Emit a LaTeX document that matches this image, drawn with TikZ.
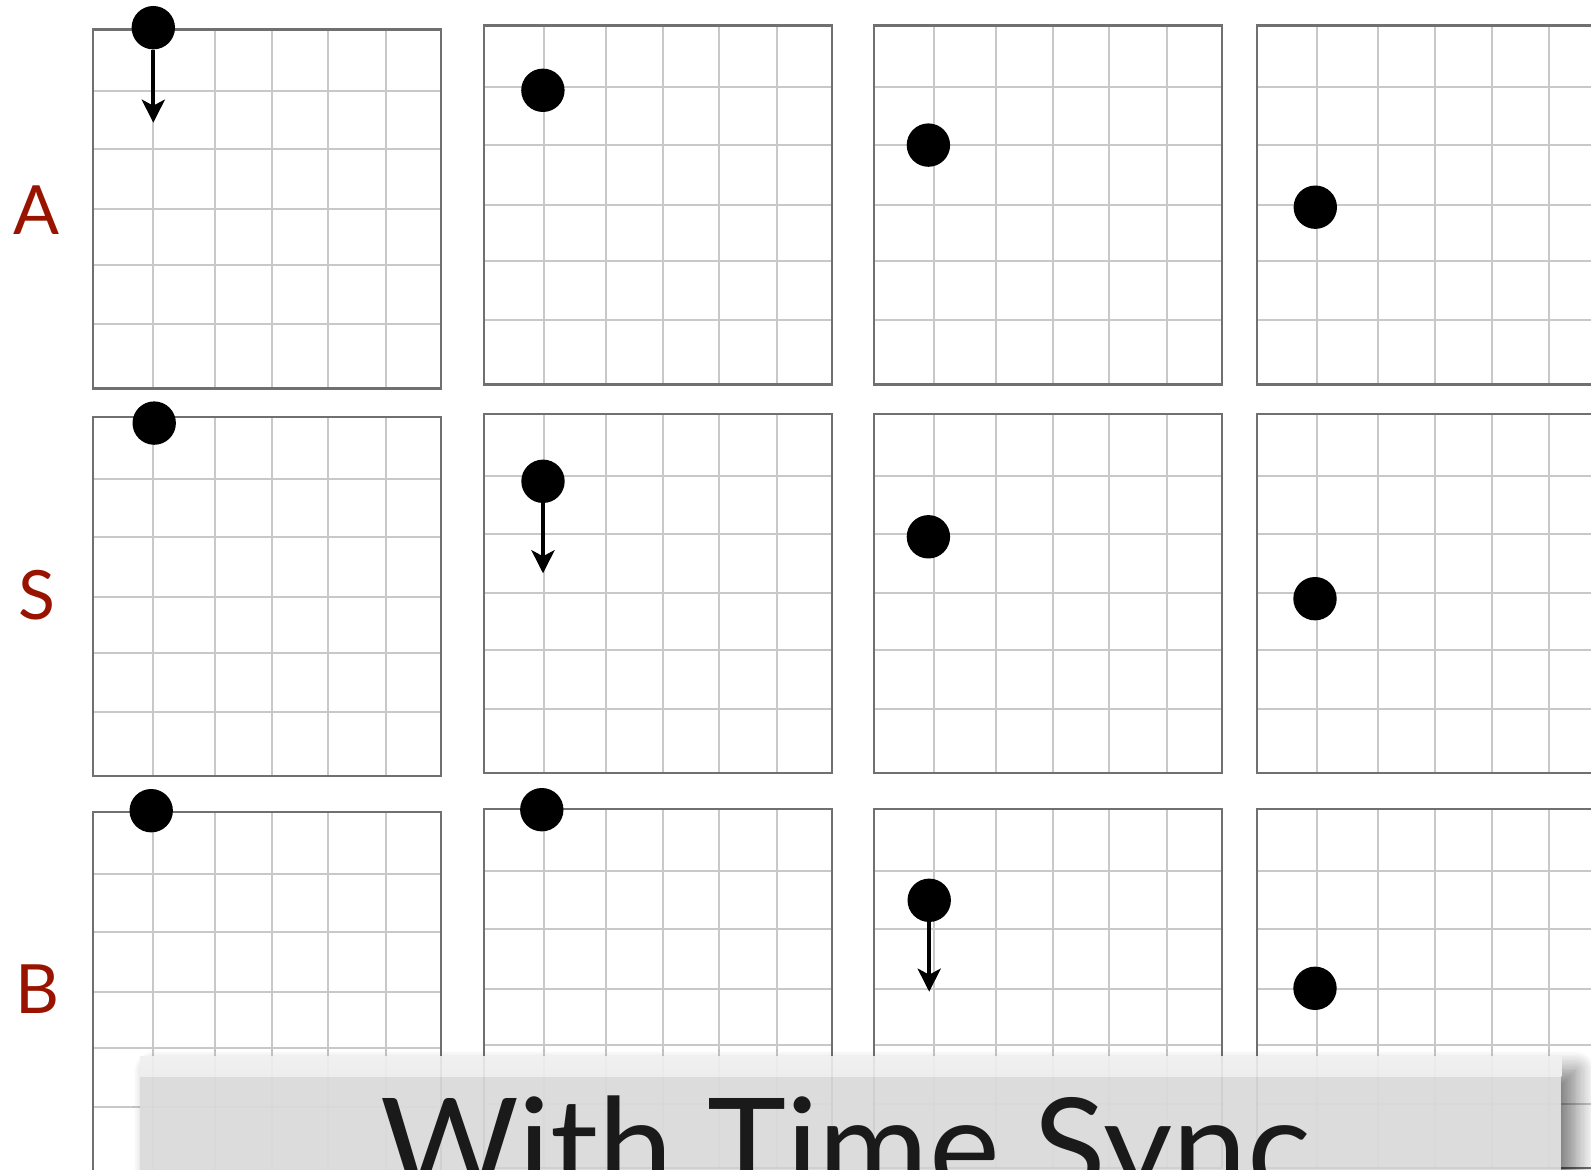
\documentclass[tikz,border=0pt]{standalone}
\usepackage{fontspec}
\setmainfont{Lato}
\usetikzlibrary{positioning, arrows.meta, shadows.blur}
\definecolor{rowred}{RGB}{153,20,0}
\definecolor{framegray}{RGB}{112,112,112}
\definecolor{gridgray}{RGB}{200,200,200}
\definecolor{bannergray}{RGB}{220,220,220}
\definecolor{bannerlight}{RGB}{240,240,240}
\definecolor{titleink}{RGB}{26,26,26}
\tikzset{
  % Grid panels
  panelframe/.style={draw=framegray, line width=1.15pt},
  panelgrid/.style={draw=gridgray, line width=1pt},
  % Token and its step arrow
  token/.style={circle, fill=black, inner sep=0pt, minimum size=21.7pt},
  fall/.style={-{Stealth[length=11.5pt, width=11.5pt, inset=3pt]}, line width=2.15pt},
  % Row letters
  rowlabel/.style={text=rowred, font=\fontsize{34}{34}\selectfont, inner sep=0pt},
  % Caption banner
  banner/.style={
    fill=bannergray, inner sep=0pt, anchor=north west,
    minimum width=710.75pt, minimum height=70pt,
    blur shadow={shadow xshift=7pt, shadow yshift=-7pt,
                 shadow blur radius=10pt, shadow blur steps=16,
                 shadow opacity=55},
    path picture={\shade[top color=bannerlight, bottom color=bannergray]
      (path picture bounding box.north west) rectangle
      ([yshift=-10pt]path picture bounding box.north east);}
  },
  caption/.style={text=titleink, font=\fontsize{67}{67}\selectfont,
    inner sep=0pt, anchor=base},
}
\newcommand{\gridpanel}[2]{%
  \begin{scope}[shift={(#2)}]
    \foreach \gx/\gy in {60/62, 121.5/120, 178.5/179.5, 235/236, 292.5/295} {
      \draw[panelgrid] (\gx,0) -- (\gx,359);   % column line
      \draw[panelgrid] (0,\gy) -- (348,\gy);   % row line
    }
    \draw[panelframe] (0,0) rectangle (348,359);
    \coordinate (#1) at (0,0);
  \end{scope}
}
\newcommand{\allpanels}{%
  \gridpanel{pA1}{93.3,29.4}  \gridpanel{pA2}{484.3,25.4}
  \gridpanel{pA3}{874,25.4}   \gridpanel{pA4}{1256.7,25.4}
  \gridpanel{pS1}{93.3,417.3} \gridpanel{pS2}{484.3,414}
  \gridpanel{pS3}{874,414}    \gridpanel{pS4}{1256.7,414}
  \gridpanel{pB1}{93.3,812.3} \gridpanel{pB2}{484.3,809}
  \gridpanel{pB3}{874,809}    \gridpanel{pB4}{1256.7,809}
}

\begin{document}
\begin{tikzpicture}[x=0.5pt, y=-0.5pt]

  \useasboundingbox (0,0) rectangle (1591,1170);
  \clip (0,0) rectangle (1591,1170);

  %% ── Panels ──
  \allpanels

  %% ── Row letters ──
  \node[rowlabel] (labA) at (37,209.7) {A};
  \node[rowlabel] (labS) at (36.5,595.6) {S};
  \node[rowlabel] (labB) at (37.5,989.3) {B};

  %% ── Tokens ──
  \node[token] (dotA1) at (153.3,27.7) {};
  \node[token] (dotA2) at (542.9,90.3) {};
  \node[token] (dotA3) at (928.4,145.1) {};
  \node[token] (dotA4) at (1315.3,207.2) {};
  \node[token] (dotS1) at (154.2,423.1) {};
  \node[token] (dotS2) at (543,481.3) {};
  \node[token] (dotS3) at (928.4,536.8) {};
  \node[token] (dotS4) at (1315,598.7) {};
  \node[token] (dotB1) at (151.2,810.7) {};
  \node[token] (dotB2) at (541.8,809.7) {};
  \node[token] (dotB3) at (929.2,900.3) {};
  \node[token] (dotB4) at (1315,988.3) {};

  %% ── Step arrows ──
  \coordinate (tipA1) at (153.3,122.7);
  \coordinate (tipS2) at (543,573.3);
  \coordinate (tipB3) at (929.2,991.7);
  \draw[fall] (dotA1) -- (tipA1);
  \draw[fall] (dotS2) -- (tipS2);
  \draw[fall] (dotB3) -- (tipB3);

  %% ── Caption banner ──
  \node[banner] (banner) at (139.5,1056.5) {};
  \begin{scope}
    \clip (banner.north west) rectangle (banner.south east);
    \begin{scope}[opacity=0.1]
      \allpanels
    \end{scope}
  \end{scope}
  \node[caption] (title) at (845.4,1194.3) {With Time Sync};

\end{tikzpicture}
\end{document}
